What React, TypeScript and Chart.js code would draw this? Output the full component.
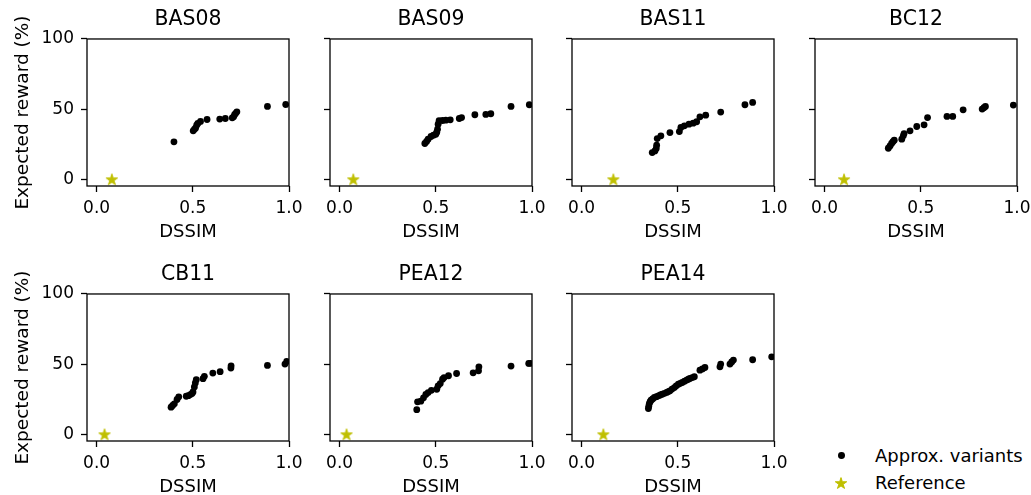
import React, { useEffect, useRef } from "react";
import { Chart, registerables } from "chart.js";

Chart.register(...registerables);

const FONT = "'DejaVu Sans', sans-serif";

const panelTitles = ["BAS08", "BAS09", "BAS11", "BC12", "CB11", "PEA12", "PEA14"];
const xTickValues = [0, 0.5, 1.0];
const yTickValues = [0, 50, 100];
const xAxisLabel = "DSSIM";
const yAxisLabel = "Expected reward (%)";
const legendLabels = ["Approx. variants", "Reference"];

const bas08X = [0.402, 0.502, 0.508, 0.514, 0.52, 0.526, 0.54, 0.574, 0.64, 0.669, 0.705, 0.712, 0.717, 0.723, 0.729, 0.888, 0.983];
const bas08Y = [26.7, 34.5, 35.6, 36.4, 38.5, 39.8, 41.2, 42.6, 42.9, 43.3, 43.8, 44.5, 46.0, 47.0, 48.1, 51.9, 53.3];

const bas09X = [0.443, 0.452, 0.46, 0.475, 0.488, 0.5, 0.505, 0.509, 0.512, 0.517, 0.535, 0.552, 0.575, 0.622, 0.634, 0.703, 0.76, 0.786, 0.891, 0.986];
const bas09Y = [25.5, 27.0, 28.6, 30.5, 31.4, 32.1, 33.5, 35.7, 39.3, 41.7, 41.9, 42.1, 42.4, 43.3, 44.0, 46.0, 46.2, 46.7, 51.9, 53.1];

const bas11X = [0.367, 0.381, 0.388, 0.39, 0.393, 0.412, 0.459, 0.508, 0.516, 0.534, 0.558, 0.58, 0.598, 0.615, 0.645, 0.723, 0.849, 0.889];
const bas11Y = [19.0, 20.2, 22.0, 24.3, 29.0, 31.0, 33.3, 34.0, 36.9, 38.1, 39.3, 40.0, 41.0, 44.5, 45.7, 47.9, 53.1, 54.8];

const bc12X = [0.331, 0.34, 0.348, 0.355, 0.362, 0.401, 0.409, 0.413, 0.444, 0.479, 0.517, 0.535, 0.636, 0.666, 0.72, 0.819, 0.828, 0.836, 0.981];
const bc12Y = [22.1, 23.8, 25.5, 26.8, 27.9, 28.6, 31.0, 32.6, 34.5, 37.6, 38.8, 44.0, 44.8, 44.8, 49.5, 50.0, 51.0, 51.9, 52.9];

const cb11X = [0.387, 0.395, 0.404, 0.418, 0.427, 0.466, 0.477, 0.487, 0.496, 0.501, 0.508, 0.513, 0.518, 0.553, 0.56, 0.604, 0.642, 0.698, 0.699, 0.888, 0.979, 0.988];
const cb11Y = [19.3, 20.5, 21.7, 24.8, 26.7, 27.1, 27.5, 28.3, 29.0, 30.2, 33.7, 36.6, 38.9, 39.6, 41.3, 43.6, 44.6, 47.2, 48.8, 49.1, 50.0, 51.9];

const pea12X = [0.401, 0.405, 0.422, 0.436, 0.448, 0.46, 0.477, 0.505, 0.512, 0.523, 0.535, 0.543, 0.566, 0.608, 0.694, 0.722, 0.724, 0.891, 0.983, 0.991];
const pea12Y = [17.5, 23.1, 23.6, 26.0, 28.4, 29.7, 31.3, 32.1, 34.5, 36.1, 39.2, 40.4, 41.7, 43.3, 43.8, 45.2, 48.1, 48.6, 50.5, 50.5];

const pea14X = [0.347, 0.349, 0.352, 0.356, 0.361, 0.369, 0.378, 0.389, 0.399, 0.409, 0.419, 0.431, 0.442, 0.451, 0.459, 0.47, 0.482, 0.492, 0.503, 0.513, 0.523, 0.535, 0.546, 0.555, 0.563, 0.575, 0.586, 0.615, 0.628, 0.641, 0.719, 0.723, 0.771, 0.78, 0.789, 0.889, 0.988];
const pea14Y = [18.3, 20.0, 21.9, 23.2, 24.3, 25.2, 26.2, 26.8, 27.4, 28.0, 28.6, 29.2, 29.8, 30.4, 31.0, 32.2, 33.3, 34.5, 35.7, 36.3, 36.9, 37.8, 38.6, 39.2, 39.8, 40.4, 41.0, 45.7, 46.6, 47.6, 48.1, 50.0, 50.0, 51.5, 52.9, 53.1, 55.2];

const refX = [0.079, 0.071, 0.165, 0.101, 0.041, 0.036, 0.113];
const refY = [0, 0, 0, 0, 0, 0, 0];

const seriesX = [bas08X, bas09X, bas11X, bc12X, cb11X, pea12X, pea14X];
const seriesY = [bas08Y, bas09Y, bas11Y, bc12Y, cb11Y, pea12Y, pea14Y];

const STAR_COLOR = "#bfbf00";
const AX_LEFTS = [87, 330, 572, 815];
const AX_TOPS = [39, 294];
const AX_W = 202;
const AX_H = 147;
const PAD_L = 87;
const PAD_T = 39;
const PAD_R = 20;
const PAD_B = 60;
const STAR_R = 6;

function starPoints(cx: number, cy: number, R: number): [number, number][] {
  const r = R * 0.381966;
  const out: [number, number][] = [];
  for (let i = 0; i < 10; i++) {
    const rad = i % 2 === 0 ? R : r;
    const a = -Math.PI / 2 + (i * Math.PI) / 5;
    out.push([cx + rad * Math.cos(a), cy + rad * Math.sin(a)]);
  }
  return out;
}

function makeStar(): HTMLCanvasElement {
  const c = document.createElement("canvas");
  c.width = 16;
  c.height = 16;
  const ctx = c.getContext("2d")!;
  const pts = starPoints(8, 8.6, STAR_R);
  ctx.beginPath();
  pts.forEach(([x, y], i) => (i === 0 ? ctx.moveTo(x, y) : ctx.lineTo(x, y)));
  ctx.closePath();
  ctx.fillStyle = STAR_COLOR;
  ctx.fill();
  ctx.strokeStyle = STAR_COLOR;
  ctx.lineWidth = 1;
  ctx.stroke();
  return c;
}

const boxPlugin = {
  id: "axesBox",
  afterDraw(chart: any) {
    const { ctx, chartArea } = chart;
    ctx.save();
    ctx.strokeStyle = "#000";
    ctx.lineWidth = 1.3;
    ctx.strokeRect(chartArea.left, chartArea.top, chartArea.right - chartArea.left, chartArea.bottom - chartArea.top);
    ctx.restore();
  },
};

function buildConfig(i: number, star: HTMLCanvasElement) {
  const col = i % 4;
  const showY = col === 0;
  const pts = seriesX[i].map((x, k) => ({ x, y: seriesY[i][k] }));
  return {
    type: "scatter" as const,
    data: {
      datasets: [
        {
          label: legendLabels[0],
          data: pts,
          pointStyle: "circle",
          pointRadius: 3.4,
          pointHoverRadius: 3.4,
          backgroundColor: "#000",
          borderColor: "#000",
          borderWidth: 0,
          clip: 0,
        },
        {
          label: legendLabels[1],
          data: [{ x: refX[i], y: refY[i] }],
          pointStyle: star,
          pointRadius: 6,
          backgroundColor: STAR_COLOR,
          borderColor: STAR_COLOR,
          clip: false,
        },
      ],
    },
    options: {
      responsive: false,
      animation: false,
      events: [],
      layout: { padding: { left: 0, right: PAD_R, top: 0, bottom: 0 } },
      plugins: {
        legend: { display: false },
        tooltip: { enabled: false },
        title: {
          display: true,
          fullSize: false,
          align: "center",
          text: panelTitles[i],
          color: "#000",
          font: { family: FONT, size: 20.4, weight: "normal" },
          padding: { top: 7.8, bottom: 6.7 },
        },
      },
      scales: {
        x: {
          type: "linear",
          min: -0.05,
          max: 1.0,
          afterBuildTicks: (s: any) => {
            s.ticks = xTickValues.map((v) => ({ value: v }));
          },
          afterFit: (s: any) => {
            s.height = PAD_B;
          },
          ticks: {
            callback: (v: any) => Number(v).toFixed(1),
            color: "#000",
            font: { family: FONT, size: 17 },
            padding: 6,
            maxRotation: 0,
            autoSkip: false,
          },
          grid: {
            display: true,
            drawOnChartArea: false,
            drawTicks: true,
            tickLength: 6,
            color: "#000",
            tickColor: "#000",
            tickWidth: 1.3,
          },
          border: { display: false },
          title: {
            display: true,
            text: xAxisLabel,
            color: "#000",
            font: { family: FONT, size: 18 },
            padding: { top: 0, bottom: 2.5 },
          },
        },
        y: {
          type: "linear",
          min: -4.8,
          max: 100,
          afterBuildTicks: (s: any) => {
            s.ticks = yTickValues.map((v) => ({ value: v }));
          },
          afterFit: (s: any) => {
            s.width = PAD_L;
          },
          ticks: {
            display: showY,
            callback: (v: any) => String(v),
            color: "#000",
            font: { family: FONT, size: 17 },
            padding: 7,
            autoSkip: false,
          },
          grid: {
            display: true,
            drawOnChartArea: false,
            drawTicks: true,
            tickLength: 6,
            color: "#000",
            tickColor: "#000",
            tickWidth: 1.3,
          },
          border: { display: false },
          title: {
            display: showY,
            text: yAxisLabel,
            color: "#000",
            font: { family: FONT, size: 18.5 },
            padding: { top: 11.9, bottom: 0 },
          },
        },
      },
    },
    plugins: [boxPlugin],
  };
}

function Panel({ index }: { index: number }) {
  const ref = useRef<HTMLCanvasElement | null>(null);
  useEffect(() => {
    if (!ref.current) return;
    const star = makeStar();
    const chart = new Chart(ref.current, buildConfig(index, star) as any);
    return () => chart.destroy();
  }, [index]);
  const col = index % 4;
  const row = Math.floor(index / 4);
  const w = PAD_L + AX_W + PAD_R;
  const h = PAD_T + AX_H + PAD_B;
  return (
    <canvas
      ref={ref}
      width={w}
      height={h}
      style={{
        position: "absolute",
        left: AX_LEFTS[col] - PAD_L,
        top: AX_TOPS[row] - PAD_T,
        width: w,
        height: h,
      }}
    />
  );
}

function LegendStar() {
  const pts = starPoints(8, 8.6, STAR_R)
    .map(([x, y]) => `${x.toFixed(2)},${y.toFixed(2)}`)
    .join(" ");
  return (
    <svg width={16} height={16} style={{ position: "absolute", left: 833, top: 474.7 }}>
      <polygon points={pts} fill={STAR_COLOR} stroke={STAR_COLOR} strokeWidth={1} />
    </svg>
  );
}

export default function App() {
  const textStyle: React.CSSProperties = {
    position: "absolute",
    left: 875,
    fontFamily: FONT,
    fontSize: "18px",
    lineHeight: "18px",
    color: "#000",
    whiteSpace: "nowrap",
  };
  return (
    <div
      style={{
        position: "absolute",
        left: 0,
        top: 0,
        width: 1031,
        height: 495,
        background: "#fff",
        overflow: "hidden",
      }}
    >
      {panelTitles.map((_, i) => (
        <Panel key={i} index={i} />
      ))}
      <div
        style={{
          position: "absolute",
          left: 841.7 - 3.4,
          top: 455.7 - 3.4,
          width: 6.8,
          height: 6.8,
          borderRadius: "50%",
          background: "#000",
        }}
      />
      <LegendStar />
      <div style={{ ...textStyle, top: 447.1 }}>{legendLabels[0]}</div>
      <div style={{ ...textStyle, top: 474.1 }}>{legendLabels[1]}</div>
    </div>
  );
}
